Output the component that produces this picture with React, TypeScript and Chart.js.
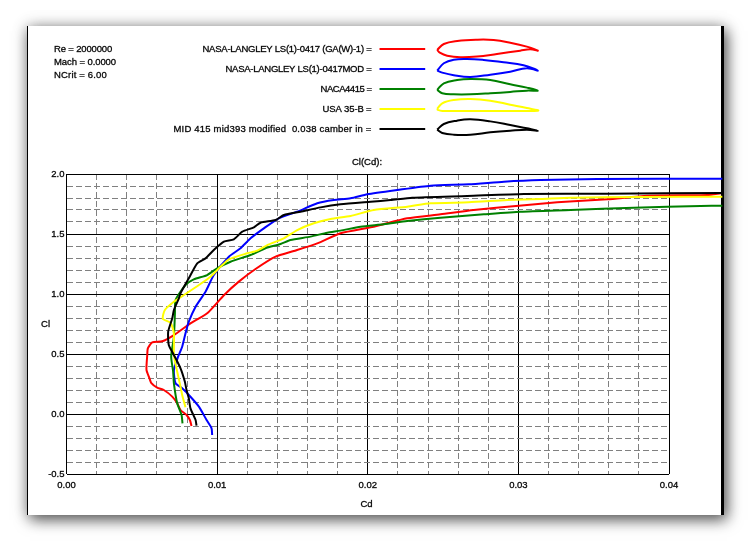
import React, { useEffect, useRef } from "react";
import { Chart, registerables } from "chart.js";

Chart.register(...registerables);

const infoLines = ["Re = 2000000", "Mach = 0.0000", "NCrit = 6.00"];
const seriesNames = [
  "NASA-LANGLEY LS(1)-0417 (GA(W)-1) =",
  "NASA-LANGLEY LS(1)-0417MOD =",
  "NACA4415 =",
  "USA 35-B =",
  "MID 415 mid393 modified  0.038 camber in =",
];
const seriesColors = ["#ff0000", "#0000ff", "#008000", "#ffff00", "#000000"];

const redCd = [.0083,.00819,.00797,.00757,.00735,.00702,.00646,.00602,.00562,.00551,.00531,.00536,.0054,.00569,.00635,.00713,.00823,.00934,.01045,.01144,.01255,.01388,.01509,.01665,.01819,.0204,.02262,.02483,.02703,.03003,.03258,.0359,.03856,.04254,.04345];
const redCl = [-.10,-.05,-.008,.033,.09,.145,.20,.22,.26,.297,.367,.49,.547,.597,.606,.658,.755,.839,.99,1.103,1.208,1.311,1.358,1.422,1.506,1.561,1.631,1.664,1.70,1.736,1.764,1.789,1.819,1.825,1.84];

const blueCd = [.00967,.00963,.0093,.00879,.00823,.00768,.00724,.00713,.00741,.00768,.0079,.00812,.00857,.00923,.00978,.01078,.01155,.01222,.0131,.0141,.01532,.01665,.01775,.01886,.01997,.02196,.02417,.02671,.02904,.03147,.03524,.04354];
const blueCl = [-.175,-.119,-.05,.061,.144,.214,.256,.367,.478,.561,.672,.769,.894,1.019,1.158,1.311,1.381,1.464,1.547,1.631,1.686,1.756,1.783,1.797,1.831,1.867,1.903,1.914,1.936,1.95,1.958,1.961];

const greenCd = [.0077,.00764,.00735,.00713,.00708,.00695,.00713,.0072,.00724,.0079,.00845,.00934,.01,.01089,.01222,.01321,.01421,.01487,.0162,.01731,.01819,.01952,.02107,.02262,.02483,.02771,.03015,.03347,.03767,.0421,.04354];
const greenCl = [-.078,-.008,.089,.256,.353,.478,.644,.839,.95,1.075,1.122,1.158,1.214,1.269,1.325,1.381,1.417,1.45,1.478,1.511,1.528,1.561,1.581,1.608,1.636,1.664,1.686,1.70,1.719,1.733,1.736];

const yellowCd = [.0079,.00768,.00757,.00735,.00713,.00713,.00691,.00639,.00653,.00713,.0079,.00879,.00956,.01023,.01078,.012,.01266,.01333,.01443,.01532,.01642,.01753,.01886,.0204,.02262,.02417,.02671,.02926,.03147,.03347,.03811,.04354];
const yellowCl = [.056,.158,.228,.353,.492,.672,.761,.792,.867,.936,1.0,1.075,1.144,1.228,1.289,1.339,1.361,1.408,1.464,1.533,1.589,1.625,1.65,1.70,1.728,1.756,1.764,1.783,1.792,1.803,1.808,1.811];

const blackCd = [.00863,.00857,.00823,.00812,.00797,.00786,.00757,.00713,.00679,.00675,.00702,.00713,.00746,.00757,.00812,.00868,.00923,.00978,.01045,.01111,.01167,.01244,.01288,.01388,.01443,.01554,.01687,.01819,.02019,.02151,.02295,.02661,.03037,.0359,.04354];
const blackCl = [-.097,-.05,.047,.131,.2,.269,.381,.492,.575,.686,.797,.867,.964,1.006,1.131,1.256,1.297,1.367,1.436,1.456,1.519,1.556,1.594,1.617,1.658,1.686,1.722,1.747,1.769,1.783,1.803,1.817,1.833,1.836,1.842];

const foilRedX = [0,.066,.2,.396,.561,.726,.891,1,.924,.825,.594,.396,.231,.099,.026,0];
const foilRedY = [.007,.066,.096,.109,.106,.079,.04,0,.013,0,-.033,-.059,-.066,-.05,-.02,.007];
const foilBlueX = [0,.066,.165,.297,.462,.66,.858,1,.891,.726,.528,.33,.165,.05,0];
const foilBlueY = [0,.073,.109,.116,.106,.083,.053,0,.023,-.01,-.04,-.063,-.046,-.02,0];
const foilGreenX = [0,.066,.198,.33,.528,.726,.891,1,.891,.726,.528,.33,.165,.05,0];
const foilGreenY = [.007,.073,.106,.116,.106,.063,.03,0,0,-.013,-.026,-.036,-.036,-.026,.007];
const foilYellowX = [0,.05,.165,.33,.528,.726,.891,1,.5,.05,.007,0];
const foilYellowY = [.017,.073,.106,.116,.099,.059,.026,0,-.003,-.003,.007,.017];
const foilBlackX = [0,.066,.198,.33,.528,.726,.891,1,.891,.726,.528,.33,.165,.05,0];
const foilBlackY = [.01,.066,.099,.112,.092,.056,.023,0,.01,0,-.017,-.04,-.04,-.023,.01];

const curves = [[redCd, redCl], [blueCd, blueCl], [greenCd, greenCl], [yellowCd, yellowCl], [blackCd, blackCl]];
const foils = [[foilRedX, foilRedY], [foilBlueX, foilBlueY], [foilGreenX, foilGreenY], [foilYellowX, foilYellowY], [foilBlackX, foilBlackY]];

const FONT = "Liberation Sans";
const zip = (a: number[], b: number[]) => a.map((x, i) => ({ x, y: b[i] }));
const isMult = (v: number, m: number) => Math.abs(v / m - Math.round(v / m)) < 1e-6;

const infoWidths = [58, 62, 53];
const rowWidths = [169, 146, 51, 49, 198];

const textPlugin = {
  id: "freeText",
  afterDraw(chart: any) {
    const c = chart.ctx;
    const put = (t: string, x: number, y: number) => {
      c.fillText(t, x, y);
      c.strokeText(t, x, y);
    };
    const fit = (t: string, x: number, y: number, w: number) => {
      c.letterSpacing = "0px";
      const m = c.measureText(t).width;
      c.letterSpacing = `${(w - m) / t.length}px`;
      put(t, x, y);
      c.letterSpacing = "0px";
    };
    c.save();
    c.fillStyle = "#000";
    c.strokeStyle = "rgba(0,0,0,0.7)";
    c.lineWidth = 0.4;
    c.textBaseline = "middle";
    c.font = `9.5px "${FONT}"`;
    c.textAlign = "left";
    infoLines.forEach((t, i) => fit(t, 54, 49.5 + i * 12.7, infoWidths[i]));
    seriesNames.forEach((t, i) => fit(t, 371.5 - rowWidths[i], 49.5 + i * 20, rowWidths[i]));
    c.textAlign = "center";
    put("Cl(Cd):", 367, 162);
    put("Cd", 366.5, 504);
    put("Cl", 45.5, 324);
    c.restore();
  },
};

export default function App() {
  const ref = useRef<HTMLCanvasElement>(null);
  useEffect(() => {
    const foilBase = 4.204;
    const foilRow = 0.1986;
    const datasets: any[] = [];
    curves.forEach(([cd, cl], i) =>
      datasets.push({
        label: seriesNames[i],
        data: zip(cd, cl),
        borderColor: seriesColors[i],
        borderWidth: 2,
        tension: 0.2,
        order: 20 - i,
      })
    );
    foils.forEach(([fx, fy], i) => {
      const off = foilBase - i * foilRow;
      datasets.push({
        label: "foil " + i,
        data: zip(fx, fy.map((y) => y + off)),
        borderColor: seriesColors[i],
        borderWidth: 2,
        tension: 0.4,
        xAxisID: "xFoil",
        yAxisID: "yFoil",
        order: 10 - i,
      });
      datasets.push({
        label: "key " + i,
        data: zip([-0.573, -0.119], [off + 0.017, off + 0.017]),
        borderColor: seriesColors[i],
        borderWidth: 2,
        tension: 0,
        xAxisID: "xFoil",
        yAxisID: "yFoil",
        order: 10 - i,
      });
    });
    datasets.forEach((d) => {
      d.showLine = true;
      d.pointRadius = 0;
      d.clip = false;
      d.fill = false;
      d.borderJoinStyle = "round";
    });
    const tickFont = { family: FONT, size: 9.5 };
    const chart = new Chart(ref.current!, {
      type: "scatter",
      data: { datasets },
      plugins: [textPlugin],
      options: {
        animation: false,
        responsive: false,
        devicePixelRatio: 1,
        layout: { padding: { left: 0, right: 80, top: 174, bottom: 0 } },
        plugins: { legend: { display: false }, tooltip: { enabled: false }, title: { display: false } },
        scales: {
          x: {
            type: "linear",
            min: 0,
            max: 0.04,
            afterFit: (s: any) => { s.height = 67; },
            border: {
              display: false,
              dash: (ctx: any) => (ctx.tick && isMult(ctx.tick.value, 0.01) ? [] : [6, 3]),
            },
            grid: {
              drawTicks: false,
              color: (ctx: any) => (ctx.tick && isMult(ctx.tick.value, 0.01) ? "#000" : "#808080"),
              lineWidth: 1,
            },
            ticks: {
              stepSize: 0.002,
              autoSkip: false,
              maxRotation: 0,
              padding: 6,
              color: "#000",
              textStrokeColor: "rgba(0,0,0,0.7)",
              textStrokeWidth: 0.4,
              font: tickFont,
              callback: (v: any) => (isMult(v, 0.01) ? Number(v).toFixed(2) : ""),
            },
          },
          y: {
            type: "linear",
            min: -0.5,
            max: 2,
            afterFit: (s: any) => { s.width = 66.5; },
            border: {
              display: false,
              dash: (ctx: any) => (ctx.tick && isMult(ctx.tick.value, 0.5) ? [] : [6, 3]),
            },
            grid: {
              drawTicks: false,
              color: (ctx: any) => (ctx.tick && isMult(ctx.tick.value, 0.5) ? "#000" : "#808080"),
              lineWidth: 1,
            },
            ticks: {
              stepSize: 0.1,
              autoSkip: false,
              padding: 2,
              color: "#000",
              textStrokeColor: "rgba(0,0,0,0.7)",
              textStrokeWidth: 0.4,
              font: tickFont,
              callback: (v: any) => (isMult(v, 0.5) ? Number(v).toFixed(1) : ""),
            },
          },
          xFoil: { type: "linear", display: false, min: -3.684, max: 2.304 },
          yFoil: { type: "linear", display: false, min: 0, max: 2.979 },
        },
      },
    } as any);
    return () => chart.destroy();
  }, []);

  return (
    <div style={{ position: "absolute", left: 0, top: 0, width: 749, height: 541, background: "#fff", overflow: "hidden" }}>
      <div
        style={{
          position: "absolute",
          left: 27,
          top: 26,
          width: 693,
          height: 489,
          background: "#fff",
          borderLeft: "1px solid #000",
          borderRight: "3px solid #000",
          boxShadow: "3px 5px 14px rgba(0,0,0,0.6), 0 0 14px rgba(0,0,0,0.25)",
        }}
      />
      <canvas ref={ref} width={749} height={541} style={{ position: "absolute", left: 0, top: 0 }} />
    </div>
  );
}
